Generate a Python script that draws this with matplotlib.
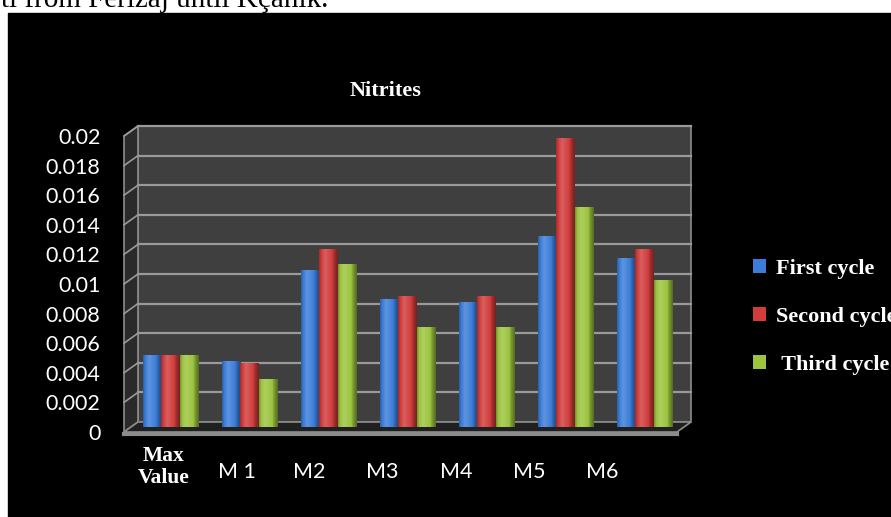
import numpy as np
import matplotlib.pyplot as plt
from matplotlib import transforms
from matplotlib.colors import LinearSegmentedColormap, to_rgb
from matplotlib.patches import Rectangle, Polygon

# Nitrites, three sampling cycles
categories = ["Max\nValue", "M 1", "M2", "M3", "M4", "M5", "M6"]
first_cycle = [0.0048, 0.0044, 0.0106, 0.0086, 0.0084, 0.0129, 0.0114]
second_cycle = [0.0048, 0.0043, 0.0120, 0.0088, 0.0088, 0.0195, 0.0120]
third_cycle = [0.0048, 0.0032, 0.0110, 0.0067, 0.0067, 0.0148, 0.0099]
series_names = ["First cycle", "Second cycle", " Third cycle"]
series_colors = ["#3b7dd8", "#d13c3c", "#9cc43e"]
y_ticks = [0, 0.002, 0.004, 0.006, 0.008, 0.01, 0.012, 0.014, 0.016, 0.018, 0.02]
y_ticklabels = ["0", "0.002", "0.004", "0.006", "0.008", "0.01",
                "0.012", "0.014", "0.016", "0.018", "0.02"]


def mix(c, other, t):
    c = np.array(to_rgb(c))
    return tuple(c * (1 - t) + np.array(other) * t)


W, H = 891, 517
fig = plt.figure(figsize=(W / 100, H / 100), dpi=100, facecolor="white")

# black panel + the cut-off line of text above it
fig.add_artist(Rectangle((8 / W, 0), 1, 1 - 13 / H, transform=fig.transFigure,
                         color="black", zorder=-10))
fig.text(0.001, 1 - 7 / H, "ti from Ferizaj until Kçanik.", family="Liberation Serif",
         fontsize=21, color="black", va="baseline", ha="left")

# axes = front plane of the 3d box
ax = fig.add_axes([124 / W, 85 / H, 553 / W, 296 / H])
ax.set_facecolor("none")
for s in ax.spines.values():
    s.set_visible(False)

dx, dy = 14, 10  # depth of the box in pixels
dxa, dya = dx / 553, dy / 296
edge = "#8c8c8c"

# walls and floor
ax.add_patch(Rectangle((dxa, dya), 1, 1, transform=ax.transAxes, fc="#3f3f3f",
                       ec=edge, lw=1.2, zorder=0, clip_on=False))
ax.add_patch(Polygon([(0, 0), (dxa, dya), (dxa, 1 + dya), (0, 1)], transform=ax.transAxes,
                     fc="#2a2a2a", ec=edge, lw=1.2, zorder=0.5, clip_on=False))
ax.add_patch(Polygon([(0, 0), (1, 0), (1 + dxa, dya), (dxa, dya)], transform=ax.transAxes,
                     fc="#202020", ec=edge, lw=1.2, zorder=0.5, clip_on=False))
ax.plot([0, 1], [-0.006, -0.006], transform=ax.transAxes, color=edge, lw=3,
        zorder=0.6, clip_on=False)

for v in y_ticks[1:]:
    y = v / 0.02
    ax.plot([dxa, 1 + dxa], [y + dya, y + dya], transform=ax.transAxes,
            color="#9a9a9a", lw=1.6, zorder=0.7, clip_on=False)
    ax.plot([0, dxa], [y, y + dya], transform=ax.transAxes,
            color="#9a9a9a", lw=1.2, zorder=0.7, clip_on=False)

# bars sit half way into the box
bar_trans = transforms.offset_copy(ax.transData, fig=fig, x=dx / 2, y=dy / 2, units="dots")
x = np.arange(len(categories))
width = 0.23
handles = []
for k, (vals, col) in enumerate(zip([first_cycle, second_cycle, third_cycle], series_colors)):
    bars = ax.bar(x + (k - 1) * width, vals, width, color=col, zorder=3, label=series_names[k])
    cmap = LinearSegmentedColormap.from_list(
        "shade", [(0, mix(col, (0, 0, 0), 0.25)), (0.12, col), (0.32, mix(col, (1, 1, 1), 0.18)),
                  (0.7, col), (0.8, mix(col, (0, 0, 0), 0.2)), (1, mix(col, (0, 0, 0), 0.45))])
    grad = np.linspace(0, 1, 64).reshape(1, -1)
    for r in bars:
        r.set_transform(bar_trans)
        x0, h = r.get_x(), r.get_height()
        im = ax.imshow(grad, cmap=cmap, extent=[x0, x0 + width, 0, h], aspect="auto",
                       interpolation="bilinear", zorder=4)
        im.set_transform(bar_trans)
    handles.append(bars)

ax.set_xlim(-0.5, 6.5)
ax.set_ylim(0, 0.02)

ax.set_yticks(y_ticks, y_ticklabels)
ax.tick_params(axis="y", length=0, pad=17, labelsize=15.5, labelcolor="white")
for lab in ax.get_yticklabels():
    lab.set_family("Lato")
ax.set_xticks([])

# category labels (squeezed a little by the perspective)
for i, name in enumerate(categories):
    if i == 0:
        ax.text(i * 0.925, -0.118, name, transform=ax.get_xaxis_transform(), ha="center",
                va="center", color="white", family="Liberation Serif", fontweight="bold",
                fontsize=15.5, linespacing=1.15)
    else:
        ax.text(i * 0.925, -0.135, name, transform=ax.get_xaxis_transform(), ha="center",
                va="center", color="white", family="Lato", fontsize=15.5)

fig.text(386 / W, 1 - 91 / H, "Nitrites", ha="center", va="center", color="white",
         family="Liberation Serif", fontweight="bold", fontsize=16)

ax.legend(handles=handles, loc="center left", bbox_to_anchor=(742 / W, 1 - 317 / H),
          bbox_transform=fig.transFigure, frameon=False, borderpad=0,
          handlelength=0.6, handleheight=0.6, handletextpad=0.45, labelspacing=1.25,
          labelcolor="white", prop={"family": "Liberation Serif", "weight": "bold", "size": 16})

fig.savefig("out.png", dpi=100, facecolor="white")
